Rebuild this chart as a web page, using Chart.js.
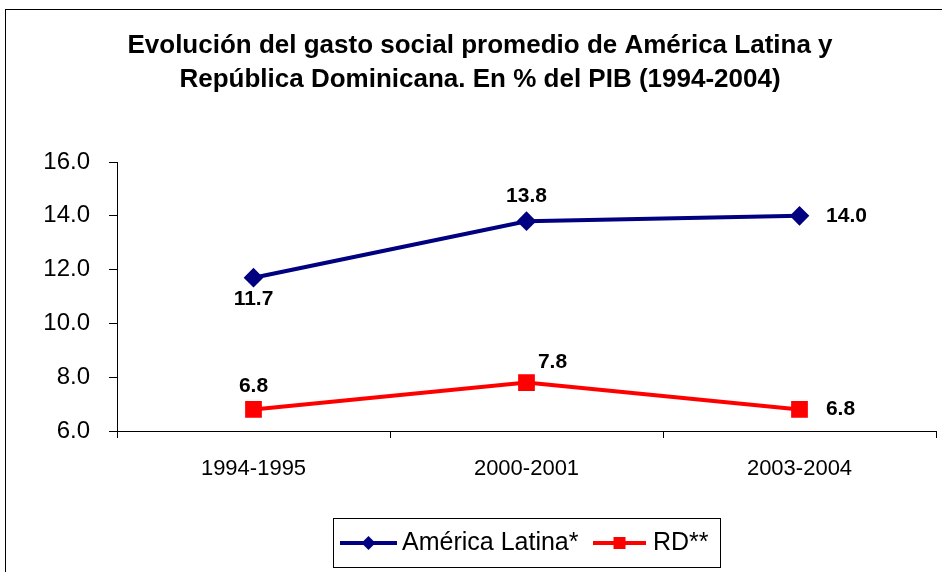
<!DOCTYPE html>
<html><head><meta charset="utf-8">
<script src="https://cdn.jsdelivr.net/npm/chart.js@4"></script>
<style>
html,body{margin:0;padding:0;background:#fff;}
#wrap{position:relative;width:942px;height:572px;overflow:hidden;}
#frame{position:absolute;left:5px;top:9px;width:1000px;height:1000px;border-left:1px solid #000;border-top:1px solid #000;}
canvas{position:absolute;left:0;top:0;}
</style></head><body>
<div id="wrap"><div id="frame"></div><canvas id="c" width="942" height="572"></canvas></div>
<script>
const categories = ['1994-1995', '2000-2001', '2003-2004'];
const americaLatina = [11.7, 13.8, 14.0];
const rd = [6.8, 7.8, 6.8];
const seriesNames = ['América Latina*', 'RD**'];
const titleLines = ['Evolución del gasto social promedio de América Latina y', 'República Dominicana. En % del PIB (1994-2004)'];
const yMin = 6, yMax = 16, yStep = 2;

const FONT = '"Liberation Sans", Arial, sans-serif';
// label placement per dataset/point: [dx, dy]
const labelPos = [
  [[0, 22], [0, -25], [47, 0]],
  [[0, -23], [26, -20], [41, 0]]
];

const overlay = {
  id: 'overlay',
  afterDraw(chart) {
    const ctx = chart.ctx;
    ctx.save();
    // title
    ctx.fillStyle = '#000';
    ctx.font = 'bold 26px ' + FONT;
    ctx.textAlign = 'center';
    ctx.textBaseline = 'middle';
    ctx.fillText(titleLines[0], 480, 46);
    ctx.fillText(titleLines[1], 480, 80);
    // data labels
    ctx.font = 'bold 21px ' + FONT;
    chart.data.datasets.forEach((ds, i) => {
      const meta = chart.getDatasetMeta(i);
      meta.data.forEach((pt, j) => {
        const p = labelPos[i][j];
        ctx.fillText(ds.data[j].toFixed(1), pt.x + p[0], pt.y + p[1]);
      });
    });
    // legend
    const lx = 333, ly = 518, lw = 387, lh = 49;
    ctx.strokeStyle = '#000';
    ctx.lineWidth = 1;
    ctx.strokeRect(lx + 0.5, ly + 0.5, lw, lh);
    const items = [[340, 397, 402], [593, 646, 653]];
    const cy = ly + 25;
    chart.data.datasets.forEach((ds, i) => {
      const it = items[i];
      ctx.strokeStyle = ds.borderColor;
      ctx.lineWidth = 4;
      ctx.beginPath(); ctx.moveTo(it[0], cy); ctx.lineTo(it[1], cy); ctx.stroke();
      ctx.fillStyle = ds.borderColor;
      const mx = (it[0] + it[1]) / 2;
      ctx.beginPath();
      if (ds.pointStyle === 'rectRot') {
        ctx.moveTo(mx - 7, cy); ctx.lineTo(mx, cy - 7); ctx.lineTo(mx + 7, cy); ctx.lineTo(mx, cy + 7);
      } else {
        ctx.rect(mx - 6, cy - 6, 12, 12);
      }
      ctx.closePath(); ctx.fill();
      ctx.fillStyle = '#000';
      ctx.font = '25px ' + FONT;
      ctx.textAlign = 'left';
      ctx.textBaseline = 'middle';
      ctx.fillText(ds.label, it[2], cy);
    });
    ctx.restore();
  }
};

new Chart(document.getElementById('c'), {
  type: 'line',
  data: {
    labels: categories,
    datasets: [
      { label: seriesNames[0], data: americaLatina, borderColor: '#000080', backgroundColor: '#000080',
        borderWidth: 4, pointStyle: 'rectRot', pointRadius: 7, pointHoverRadius: 7, tension: 0 },
      { label: seriesNames[1], data: rd, borderColor: '#FF0000', backgroundColor: '#FF0000',
        borderWidth: 4, pointStyle: 'rect', pointRadius: 9, pointHoverRadius: 9, tension: 0 }
    ]
  },
  options: {
    responsive: false,
    animation: false,
    events: [],
    layout: { autoPadding: false, padding: { top: 162, right: 6, left: 0, bottom: 0 } },
    plugins: { legend: { display: false }, title: { display: false }, tooltip: { enabled: false } },
    scales: {
      x: {
        offset: true,
        grid: { offset: true, drawOnChartArea: false, color: '#000', tickLength: 7 },
        border: { color: '#000', width: 1 },
        ticks: { color: '#000', font: { family: FONT, size: 22 }, padding: 18, maxRotation: 0 },
        afterFit(s) { s.height = 141; s.paddingLeft = 0; s.paddingRight = 0; }
      },
      y: {
        min: yMin, max: yMax,
        grid: { drawOnChartArea: false, color: '#000', tickLength: 8 },
        border: { color: '#000', width: 1 },
        ticks: { stepSize: yStep, color: '#000', font: { family: FONT, size: 24 }, padding: 19,
          callback: v => Number(v).toFixed(1) },
        afterFit(s) { s.width = 117; s.paddingTop = 0; s.paddingBottom = 0; }
      }
    }
  },
  plugins: [overlay]
});
</script>
</body></html>
